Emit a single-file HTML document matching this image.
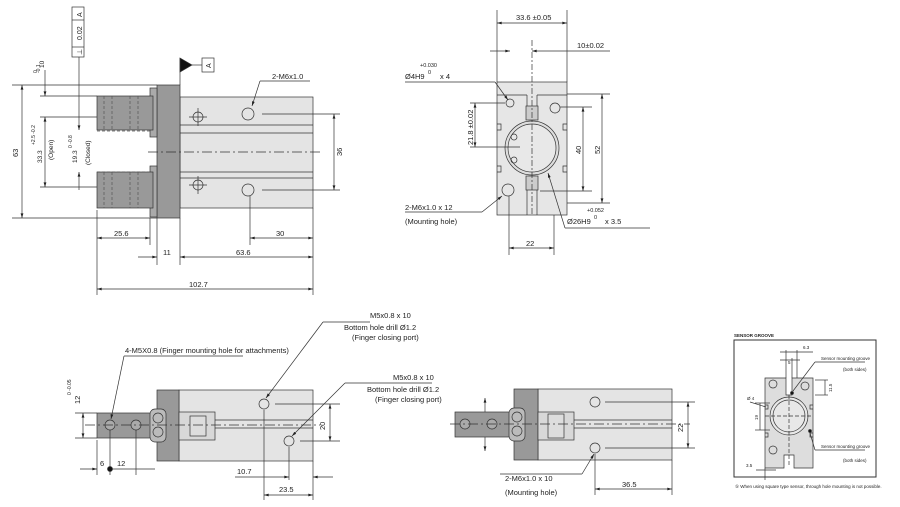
<!DOCTYPE html>
<html><head><meta charset="utf-8"><style>
html,body{margin:0;padding:0;background:#fff}
svg{display:block}
text{font-family:"Liberation Sans",sans-serif;fill:#222}
</style></head><body>
<svg width="900" height="507" viewBox="0 0 900 507" xmlns="http://www.w3.org/2000/svg">
<defs>
<marker id="a" viewBox="0 0 10 6" refX="10" refY="3" markerWidth="8" markerHeight="4" orient="auto-start-reverse"><path d="M0,0L10,3L0,6z" fill="#222"/></marker>
</defs>
<g stroke="#333" stroke-width="0.7" fill="none">
<!-- ===== TOP LEFT VIEW ===== -->
<rect x="180" y="97" width="133" height="111" fill="#e4e4e4"/>
<line x1="180" y1="125" x2="313" y2="125"/><line x1="180" y1="133" x2="313" y2="133"/>
<line x1="180" y1="172" x2="313" y2="172"/><line x1="180" y1="178" x2="313" y2="178"/>
<rect x="157" y="85" width="23" height="133" fill="#999"/>
<rect x="150" y="88" width="7" height="49" fill="#aaa"/>
<rect x="150" y="166" width="7" height="51" fill="#aaa"/>
<rect x="97" y="96" width="56" height="34" fill="#999"/>
<rect x="97" y="172" width="56" height="36" fill="#999"/>
<g stroke-dasharray="3,2" stroke="#555"><line x1="104" y1="96" x2="104" y2="130"/><line x1="112" y1="96" x2="112" y2="130"/><line x1="130" y1="96" x2="130" y2="130"/><line x1="138" y1="96" x2="138" y2="130"/>
<line x1="104" y1="172" x2="104" y2="208"/><line x1="112" y1="172" x2="112" y2="208"/><line x1="130" y1="172" x2="130" y2="208"/><line x1="138" y1="172" x2="138" y2="208"/>
<line x1="97" y1="131" x2="150" y2="131"/><line x1="97" y1="172" x2="150" y2="172"/></g>
<line x1="148" y1="152" x2="320" y2="152" stroke-dasharray="10,3,2,3"/>
<circle cx="198" cy="117" r="5" fill="#e4e4e4"/><circle cx="248" cy="114" r="6" fill="#e4e4e4"/>
<circle cx="198" cy="185" r="5" fill="#e4e4e4"/><circle cx="248" cy="190" r="6" fill="#e4e4e4"/>
<line x1="198" y1="108" x2="198" y2="126"/><line x1="189" y1="117" x2="207" y2="117"/>
<line x1="198" y1="176" x2="198" y2="194"/><line x1="189" y1="185" x2="207" y2="185"/>
<line x1="262" y1="114" x2="340" y2="114"/><line x1="262" y1="190" x2="340" y2="190"/>
<line x1="334" y1="114" x2="334" y2="190" marker-start="url(#a)" marker-end="url(#a)"/>
<line x1="260" y1="81" x2="310" y2="81"/><line x1="260" y1="81" x2="252" y2="106" marker-end="url(#a)"/>
<!-- datum -->
<rect x="72" y="7" width="12" height="50" fill="#fff"/><line x1="72" y1="20" x2="84" y2="20"/><line x1="72" y1="47" x2="84" y2="47"/>
<line x1="79" y1="57" x2="79" y2="130" marker-end="url(#a)"/><line x1="79" y1="172" x2="79" y2="190" marker-start="url(#a)"/>
<path d="M180,58L192,65L180,72z" fill="#111"/><rect x="202" y="58" width="12" height="14" fill="#fff"/><line x1="180" y1="58" x2="180" y2="85"/><line x1="192" y1="65" x2="202" y2="65"/>
<!-- left dims -->
<line x1="12" y1="85" x2="157" y2="85"/><line x1="12" y1="218" x2="157" y2="218"/>
<line x1="22" y1="85" x2="22" y2="218" marker-start="url(#a)" marker-end="url(#a)"/>
<line x1="40" y1="96" x2="97" y2="96"/><line x1="40" y1="117" x2="97" y2="117"/><line x1="40" y1="187" x2="97" y2="187"/>
<line x1="45" y1="70" x2="45" y2="96" marker-end="url(#a)"/><line x1="45" y1="117" x2="45" y2="187" marker-start="url(#a)" marker-end="url(#a)"/>
<line x1="97" y1="210" x2="97" y2="295"/><line x1="150" y1="218" x2="150" y2="245"/><line x1="157" y1="218" x2="157" y2="265"/><line x1="180" y1="218" x2="180" y2="265"/><line x1="313" y1="208" x2="313" y2="295"/><line x1="250" y1="196" x2="250" y2="245"/>
<line x1="97" y1="238" x2="150" y2="238" marker-start="url(#a)" marker-end="url(#a)"/>
<line x1="250" y1="238" x2="313" y2="238" marker-start="url(#a)" marker-end="url(#a)"/>
<line x1="138" y1="257" x2="157" y2="257" marker-end="url(#a)"/><line x1="180" y1="257" x2="313" y2="257" marker-start="url(#a)" marker-end="url(#a)"/>
<line x1="97" y1="289" x2="313" y2="289" marker-start="url(#a)" marker-end="url(#a)"/>

<!-- ===== TOP RIGHT VIEW ===== -->
<rect x="497" y="82" width="70" height="133" fill="#e6e6e6"/>
<line x1="497" y1="95" x2="527" y2="95"/><line x1="537" y1="95" x2="567" y2="95"/>
<line x1="527" y1="95" x2="527" y2="106"/><line x1="537" y1="95" x2="537" y2="106"/>
<line x1="527" y1="190" x2="527" y2="215"/><line x1="537" y1="190" x2="537" y2="215"/>
<path d="M497,124h4v6h-4 M497,166h4v6h-4 M567,124h-4v6h4 M567,166h-4v6h4"/>
<circle cx="532" cy="148" r="27" fill="#ddd"/><circle cx="532" cy="148" r="24" fill="#e8e8e8"/>
<rect x="526" y="106" width="12" height="14" fill="#ccc"/><rect x="526" y="176" width="12" height="14" fill="#ccc"/>
<circle cx="510" cy="103" r="4"/><circle cx="555" cy="108" r="5"/><circle cx="508" cy="190" r="6"/>
<circle cx="514" cy="137" r="3"/><circle cx="514" cy="160" r="3"/>
<line x1="532" y1="40" x2="532" y2="215" stroke-dasharray="6,2,2,2"/>
<line x1="497" y1="10" x2="497" y2="82"/><line x1="567" y1="10" x2="567" y2="82"/>
<line x1="497" y1="23" x2="567" y2="23" marker-start="url(#a)" marker-end="url(#a)"/>
<line x1="490" y1="51" x2="510" y2="51" marker-end="url(#a)"/><line x1="532" y1="51" x2="610" y2="51" marker-start="url(#a)"/>
<line x1="405" y1="82" x2="495" y2="82"/><line x1="495" y1="82" x2="508" y2="100" marker-end="url(#a)"/>
<line x1="470" y1="103" x2="505" y2="103"/><line x1="470" y1="147" x2="520" y2="147"/>
<line x1="475" y1="103" x2="475" y2="147" marker-start="url(#a)" marker-end="url(#a)"/>
<line x1="567" y1="94" x2="610" y2="94"/><line x1="567" y1="203" x2="610" y2="203"/><line x1="560" y1="107" x2="592" y2="107"/><line x1="540" y1="191" x2="592" y2="191"/>
<line x1="602" y1="94" x2="602" y2="203" marker-start="url(#a)" marker-end="url(#a)"/>
<line x1="583" y1="107" x2="583" y2="191" marker-start="url(#a)" marker-end="url(#a)"/>
<line x1="405" y1="212" x2="482" y2="212"/><line x1="482" y1="212" x2="502" y2="196" marker-end="url(#a)"/>
<line x1="565" y1="228" x2="650" y2="228"/><line x1="565" y1="228" x2="548" y2="173" marker-end="url(#a)"/>
<line x1="509" y1="196" x2="509" y2="255"/><line x1="554" y1="215" x2="554" y2="255"/>
<line x1="509" y1="248" x2="554" y2="248" marker-start="url(#a)" marker-end="url(#a)"/>

<!-- ===== BOTTOM LEFT VIEW ===== -->
<rect x="179" y="390" width="134" height="71" fill="#e4e4e4"/>
<rect x="157" y="390" width="22" height="71" fill="#999"/>
<rect x="179" y="412" width="36" height="28" fill="#d8d8d8"/><rect x="190" y="416" width="16" height="20" fill="#ddd"/>
<line x1="215" y1="420" x2="313" y2="420"/><line x1="215" y1="428" x2="313" y2="428"/>
<rect x="97" y="413" width="56" height="25" fill="#999"/>
<rect x="150" y="409" width="16" height="33" rx="5" fill="#bbb"/><circle cx="158" cy="418" r="5"/><circle cx="158" cy="432" r="5"/>
<circle cx="110" cy="425" r="5" fill="#aaa"/><circle cx="136" cy="425" r="5" fill="#aaa"/>
<line x1="85" y1="425" x2="320" y2="425" stroke-dasharray="10,3,2,3"/>
<circle cx="264" cy="404" r="5" fill="#e4e4e4"/><circle cx="289" cy="441" r="5" fill="#e4e4e4"/>
<line x1="275" y1="404" x2="340" y2="404"/><line x1="300" y1="441" x2="340" y2="441"/>
<line x1="330" y1="404" x2="330" y2="441" marker-start="url(#a)" marker-end="url(#a)"/>
<line x1="323" y1="322" x2="370" y2="322"/><line x1="323" y1="322" x2="266" y2="398" marker-end="url(#a)"/>
<line x1="345" y1="383" x2="432" y2="383"/><line x1="345" y1="383" x2="292" y2="436" marker-end="url(#a)"/>
<line x1="124" y1="356" x2="243" y2="356"/><line x1="124" y1="356" x2="111" y2="419" marker-end="url(#a)"/>
<line x1="75" y1="413" x2="97" y2="413"/><line x1="75" y1="438" x2="97" y2="438"/>
<line x1="83" y1="413" x2="83" y2="438" marker-start="url(#a)" marker-end="url(#a)"/>
<line x1="97" y1="440" x2="97" y2="475"/><line x1="110" y1="430" x2="110" y2="475"/><line x1="136" y1="430" x2="136" y2="475"/>
<line x1="80" y1="469" x2="97" y2="469" marker-end="url(#a)"/><line x1="110" y1="469" x2="155" y2="469"/>
<circle cx="110" cy="469" r="2.5" fill="#111"/>
<line x1="264" y1="410" x2="264" y2="500"/><line x1="289" y1="447" x2="289" y2="480"/><line x1="313" y1="461" x2="313" y2="500"/>
<line x1="235" y1="477" x2="289" y2="477" marker-end="url(#a)"/><line x1="313" y1="477" x2="333" y2="477" marker-start="url(#a)"/>
<line x1="264" y1="495" x2="313" y2="495" marker-start="url(#a)" marker-end="url(#a)"/>

<!-- ===== BOTTOM MIDDLE VIEW ===== -->
<rect x="538" y="389" width="134" height="71" fill="#e4e4e4"/>
<rect x="514" y="389" width="24" height="71" fill="#999"/>
<rect x="538" y="412" width="36" height="28" fill="#d8d8d8"/><rect x="548" y="414" width="16" height="24" fill="#ddd"/>
<line x1="574" y1="420" x2="672" y2="420"/><line x1="574" y1="428" x2="672" y2="428"/>
<rect x="455" y="412" width="57" height="25" fill="#999"/>
<rect x="509" y="408" width="16" height="33" rx="5" fill="#bbb"/><circle cx="517" cy="417" r="5"/><circle cx="517" cy="431" r="5"/>
<circle cx="465" cy="424" r="5" fill="#aaa"/><circle cx="492" cy="424" r="5" fill="#aaa"/>
<line x1="450" y1="424" x2="690" y2="424" stroke-dasharray="10,3,2,3"/>
<line x1="485" y1="412" x2="485" y2="398" marker-end="url(#a)"/><line x1="485" y1="437" x2="485" y2="451" marker-end="url(#a)"/>
<circle cx="595" cy="402" r="5" fill="#e4e4e4"/><circle cx="595" cy="448" r="5" fill="#e4e4e4"/>
<line x1="605" y1="402" x2="695" y2="402"/><line x1="605" y1="448" x2="695" y2="448"/>
<line x1="688" y1="402" x2="688" y2="448" marker-start="url(#a)" marker-end="url(#a)"/>
<line x1="500" y1="474" x2="582" y2="474"/><line x1="582" y1="474" x2="594" y2="454" marker-end="url(#a)"/>
<line x1="595" y1="454" x2="595" y2="495"/><line x1="672" y1="460" x2="672" y2="495"/>
<line x1="595" y1="489" x2="672" y2="489" marker-start="url(#a)" marker-end="url(#a)"/>

<!-- ===== SENSOR GROOVE ===== -->
<rect x="734" y="340" width="142" height="137" stroke-width="1"/>
<path d="M765,378H786V395H792V378H813V468H794V455H784V468H765Z" fill="#ddd"/>
<path d="M765,405h3v4h-3 M765,433h3v4h-3 M813,405h-3v4h3 M813,433h-3v4h3"/>
<circle cx="789" cy="416" r="19" fill="#e8e8e8"/><circle cx="789" cy="416" r="16"/>
<line x1="789" y1="395" x2="789" y2="465" stroke-dasharray="4,2"/><line x1="765" y1="416" x2="813" y2="416" stroke-dasharray="4,2"/>
<circle cx="773" cy="384" r="4"/><circle cx="805" cy="386" r="4"/><circle cx="773" cy="450" r="4"/>
<circle cx="792" cy="393" r="1.5" fill="#111"/><circle cx="810" cy="431" r="1.5" fill="#111"/>
<line x1="786" y1="350" x2="786" y2="378"/><line x1="792" y1="358" x2="792" y2="378"/><line x1="797" y1="350" x2="797" y2="378"/>
<line x1="780" y1="352" x2="813" y2="352"/><line x1="780" y1="360" x2="800" y2="360"/>
<line x1="765" y1="468" x2="765" y2="480"/><line x1="756" y1="470" x2="776" y2="470"/>
<line x1="755" y1="403" x2="770" y2="403"/><line x1="755" y1="430" x2="770" y2="430"/><line x1="760" y1="403" x2="760" y2="430"/>
<line x1="815" y1="380" x2="828" y2="380"/><line x1="815" y1="395" x2="828" y2="395"/><line x1="825" y1="380" x2="825" y2="395"/>
<line x1="815" y1="362" x2="865" y2="362"/><line x1="815" y1="362" x2="793" y2="391"/>
<line x1="815" y1="450" x2="865" y2="450"/><line x1="815" y1="450" x2="810" y2="433"/>
<line x1="750" y1="402" x2="766" y2="407"/>
</g>

<g font-size="7.5">
<text x="272" y="79">2-M6x1.0</text>
<text x="342" y="156" transform="rotate(-90 342 156)">36</text>
<text x="114" y="236">25.6</text>
<text x="163" y="255">11</text>
<text x="236" y="255">63.6</text>
<text x="189" y="287">102.7</text>
<text x="276" y="236">30</text>
<text x="18" y="157" transform="rotate(-90 18 157)">63</text>
<text x="44" y="68" transform="rotate(-90 44 68)" font-size="6.5">10</text>
<text x="37" y="73" transform="rotate(-90 37 73)" font-size="5">0</text>
<text x="40" y="73" transform="rotate(-90 40 73)" font-size="5">-0.1</text>
<text x="42" y="163" transform="rotate(-90 42 163)" font-size="6.5">33.3</text>
<text x="35" y="145" transform="rotate(-90 35 145)" font-size="5">+2.5 -0.2</text>
<text x="53" y="160" transform="rotate(-90 53 160)" font-size="6.5">(Open)</text>
<text x="77" y="163" transform="rotate(-90 77 163)" font-size="6.5">19.3</text>
<text x="72" y="148" transform="rotate(-90 72 148)" font-size="5">0 -0.8</text>
<text x="90" y="165" transform="rotate(-90 90 165)" font-size="6.5">(Closed)</text>
<text x="82" y="40" transform="rotate(-90 82 40)" font-size="7">0.02</text>
<text x="82" y="17" transform="rotate(-90 82 17)" font-size="7">A</text>
<text x="82" y="55" transform="rotate(-90 82 55)" font-size="7">⊥</text>
<text x="211" y="68" transform="rotate(-90 211 68)" font-size="7">A</text>

<text x="516" y="20">33.6 ±0.05</text>
<text x="577" y="48">10±0.02</text>
<text x="420" y="67" font-size="5.5">+0.030</text>
<text x="428" y="74" font-size="5.5">0</text>
<text x="405" y="79">Ø4H9</text><text x="440" y="79">x 4</text>
<text x="473" y="145" transform="rotate(-90 473 145)">21.8 ±0.02</text>
<text x="581" y="154" transform="rotate(-90 581 154)">40</text>
<text x="600" y="154" transform="rotate(-90 600 154)">52</text>
<text x="405" y="210">2-M6x1.0 x 12</text>
<text x="405" y="224">(Mounting hole)</text>
<text x="587" y="212" font-size="5.5">+0.052</text>
<text x="594" y="219" font-size="5.5">0</text>
<text x="567" y="224">Ø26H9</text><text x="605" y="224">x 3.5</text>
<text x="526" y="246">22</text>

<text x="370" y="318">M5x0.8 x 10</text>
<text x="344" y="330">Bottom hole drill  Ø1.2</text>
<text x="352" y="340">(Finger closing port)</text>
<text x="393" y="380">M5x0.8 x 10</text>
<text x="367" y="392">Bottom hole drill  Ø1.2</text>
<text x="375" y="402">(Finger closing port)</text>
<text x="125" y="353">4-M5X0.8 (Finger mounting hole for attachments)</text>
<text x="80" y="404" transform="rotate(-90 80 404)">12</text>
<text x="71" y="395" transform="rotate(-90 71 395)" font-size="5">0 -0.05</text>
<text x="325" y="430" transform="rotate(-90 325 430)">20</text>
<text x="100" y="466">6</text><text x="117" y="466">12</text>
<text x="237" y="474">10.7</text>
<text x="279" y="492">23.5</text>

<text x="683" y="432" transform="rotate(-90 683 432)">22</text>
<text x="505" y="481">2-M6x1.0 x 10</text>
<text x="505" y="495">(Mounting hole)</text>
<text x="622" y="487">36.5</text>
</g>
<g font-size="4.5">
<text x="734" y="337" font-weight="bold">SENSOR GROOVE</text>
<text x="803" y="349">6.3</text><text x="788" y="364">5</text>
<text x="821" y="360">Sensor mounting groove</text><text x="843" y="371">(both sides)</text>
<text x="821" y="448">Sensor mounting groove</text><text x="843" y="462">(both sides)</text>
<text x="747" y="400">Ø 4</text>
<text x="758" y="420" transform="rotate(-90 758 420)">19</text>
<text x="832" y="392" transform="rotate(-90 832 392)">11.5</text>
<text x="746" y="467">3.5</text>
<text x="735" y="488">⑤  When using square type sensor, through hole mounting is not possible.</text>
</g>
</svg>
</body></html>
